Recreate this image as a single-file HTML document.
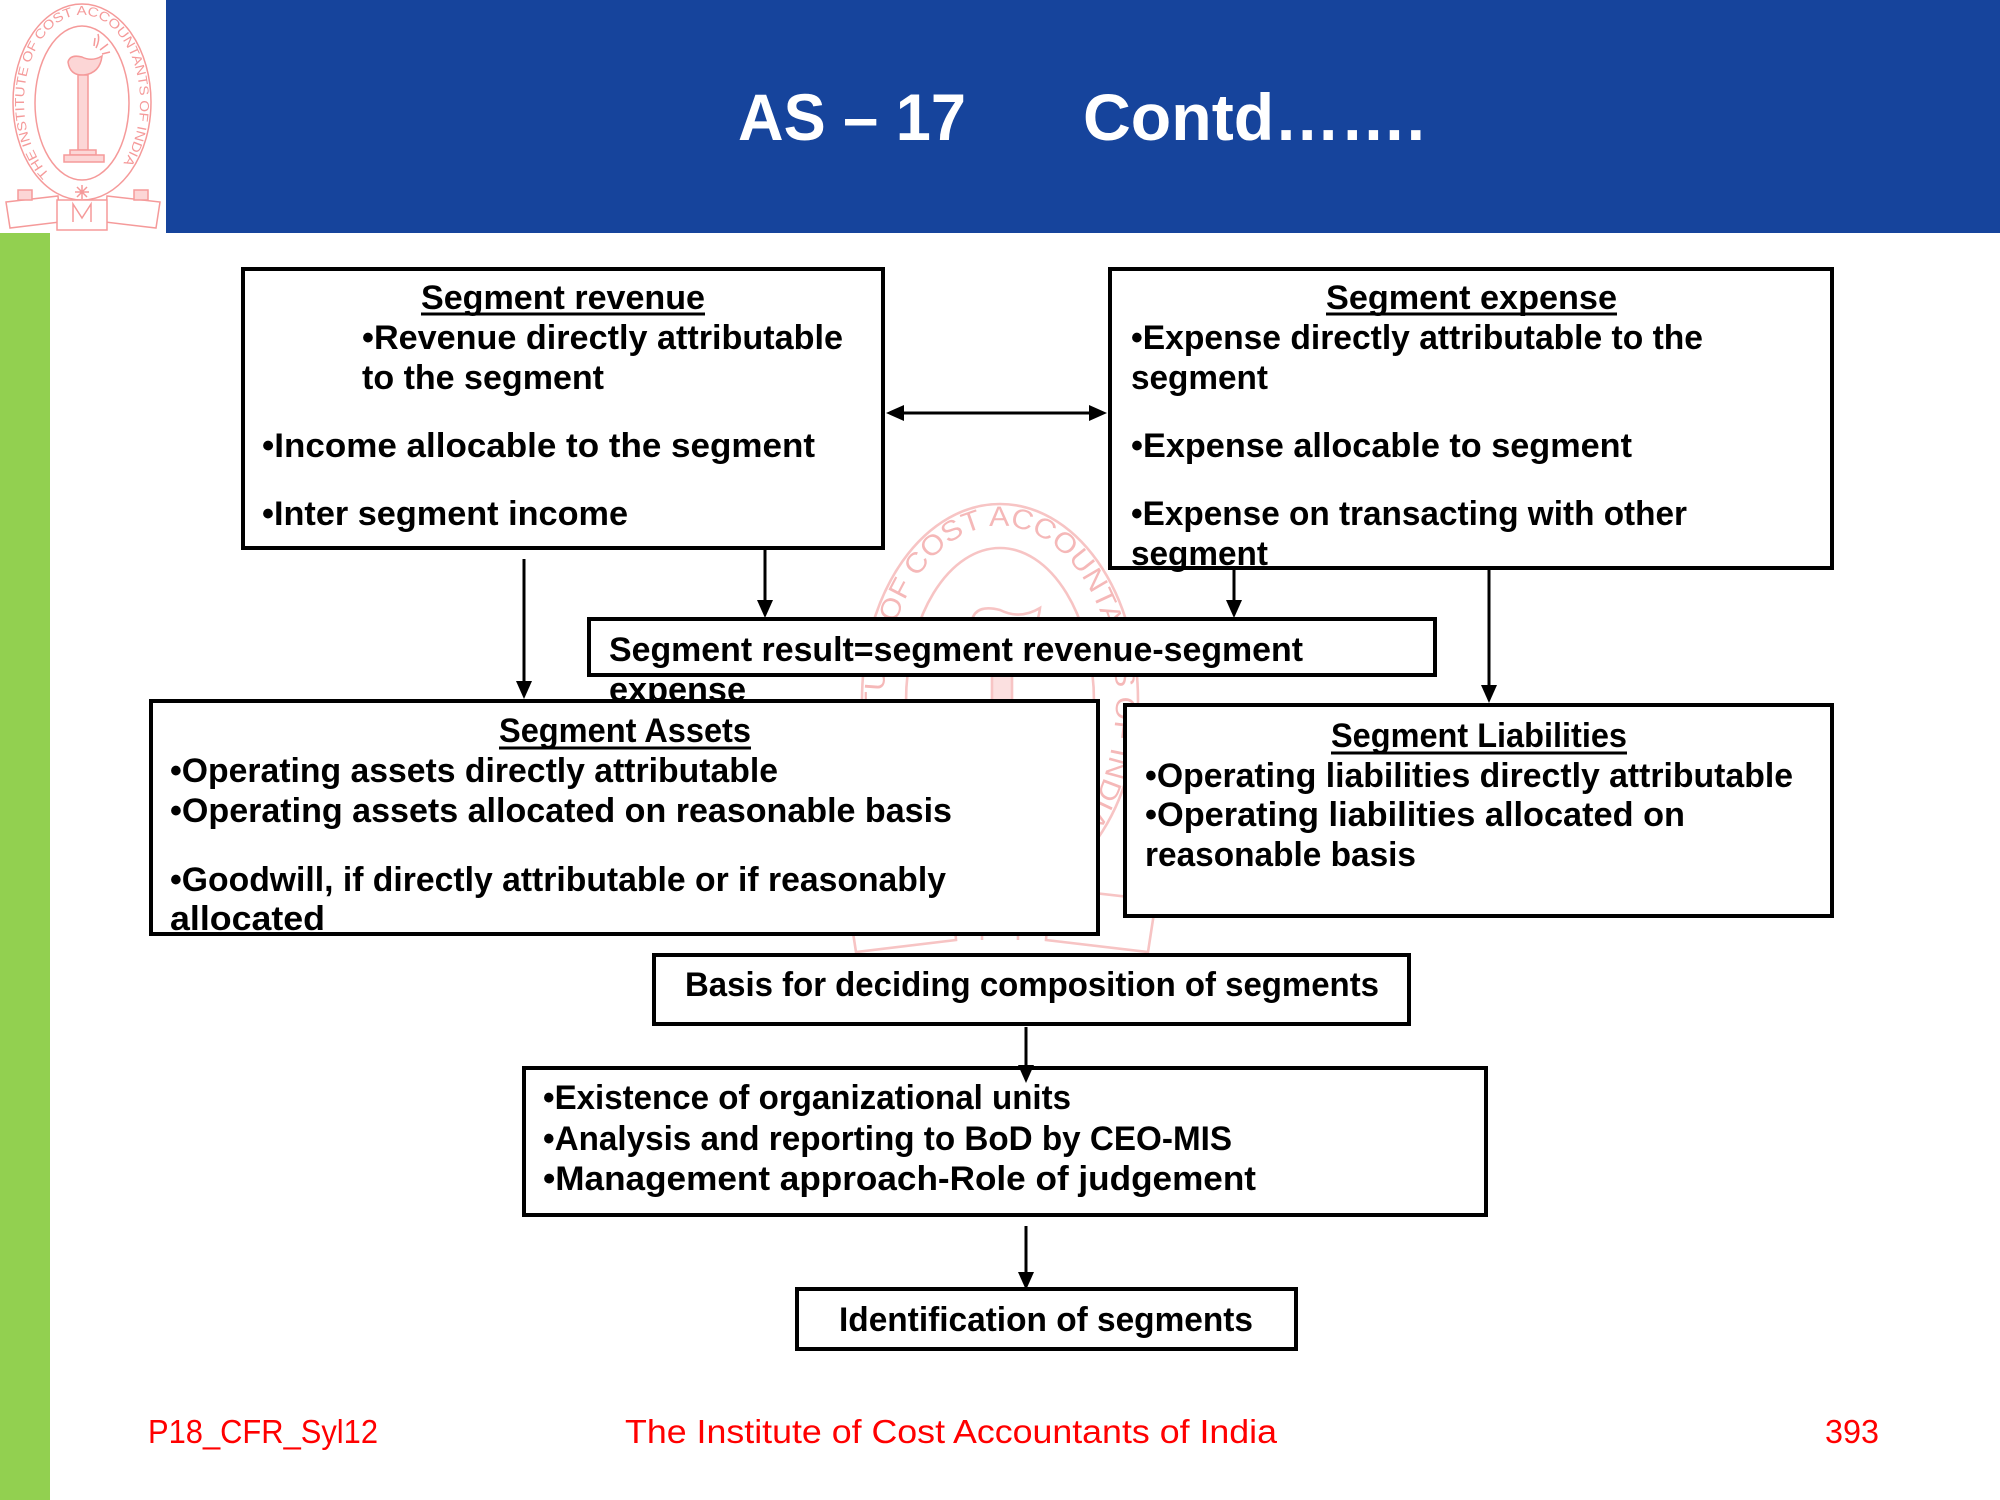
<!DOCTYPE html>
<html>
<head>
<meta charset="utf-8">
<style>
  html, body { margin: 0; padding: 0; background: #ffffff; }
  body { width: 2000px; height: 1500px; overflow: hidden; position: relative; }
  svg { position: absolute; left: 0; top: 0; }
  .t { font-family: "Liberation Sans", "DejaVu Sans", sans-serif; font-weight: bold; font-size: 34px; fill: #000; }
  .f { font-family: "Liberation Sans", "DejaVu Sans", sans-serif; font-size: 33px; fill: #ff0000; }
  .ttl { font-family: "Liberation Sans", "DejaVu Sans", sans-serif; font-weight: bold; font-size: 66px; fill: #ffffff; }
  .lg { font-family: "Liberation Sans", "DejaVu Sans", sans-serif; font-size: 13px; }
  .lg2 { font-family: "Liberation Sans", "DejaVu Sans", sans-serif; font-size: 14px; }
</style>
</head>
<body>
<svg width="2000" height="1500" viewBox="0 0 2000 1500" xmlns="http://www.w3.org/2000/svg">

  <!-- header band -->
  <rect x="166" y="0" width="1834" height="233" fill="#16449C"/>
  <!-- green side bar -->
  <rect x="0" y="233" width="50" height="1267" fill="#92D050"/>

  <!-- header logo -->
  <g stroke="#f59a9a" fill="none" stroke-width="1.5">
    <ellipse cx="82" cy="102" rx="69" ry="98"/>
    <ellipse cx="82" cy="103" rx="47" ry="77"/>
    <path id="lgp1" d="M49.6,174.1 A58,87 0 1,1 111,177.3" stroke="none"/>
    <path d="M68,62 Q70,76 84,75 Q100,73 102,56 Q92,62 82,57 Q70,54 68,62Z" fill="#fcd6d6"/>
    <path d="M96,48 Q100,40 98,34 M100,50 L108,44 M102,54 L110,52 M94,46 L95,38" />
    <rect x="78" y="75" width="10" height="75" fill="#fcd6d6"/>
    <rect x="70" y="150" width="26" height="5" fill="#fcd6d6"/>
    <rect x="64" y="155" width="40" height="7" fill="#fcd6d6"/>
    <path d="M82,185 L82,199 M75,192 L89,192 M77,187 L87,197 M87,187 L77,197"/>
    <path d="M6,202 L58,196 L60,222 L10,228 Z" fill="#fff"/>
    <path d="M107,196 L160,202 L156,228 L105,222 Z" fill="#fff"/>
    <path d="M57,200 L107,200 L107,230 L57,230 Z" fill="#fff"/>
    <path d="M73,222 L73,204 L82,218 L91,204 L91,222"/>
    <rect x="18" y="190" width="14" height="10" fill="#fcd6d6"/>
    <rect x="134" y="190" width="14" height="10" fill="#fcd6d6"/>
  </g>
  <text class="lg" fill="#f59a9a"><textPath href="#lgp1" textLength="372" lengthAdjust="spacingAndGlyphs">THE INSTITUTE OF COST ACCOUNTANTS OF INDIA</textPath></text>

  <!-- title -->
  <text class="ttl" x="738" y="140" textLength="228" lengthAdjust="spacingAndGlyphs">AS – 17</text>
  <text class="ttl" x="1083" y="140" textLength="342" lengthAdjust="spacingAndGlyphs">Contd…….</text>

  <!-- watermark logo (behind boxes) -->
  <g transform="translate(836,496) scale(2)">
    <g stroke="#f7c4c4" fill="none" stroke-width="1.3">
      <ellipse cx="82" cy="102" rx="69" ry="98"/>
      <ellipse cx="82" cy="103" rx="47" ry="77"/>
      <path id="lgp2" d="M49.6,174.1 A58,87 0 1,1 111,177.3" stroke="none"/>
      <path d="M68,62 Q70,76 84,75 Q100,73 102,56 Q92,62 82,57 Q70,54 68,62Z"/>
      <rect x="78" y="75" width="10" height="75" fill="#fbe0e0"/>
      <rect x="70" y="150" width="26" height="5"/>
      <rect x="64" y="155" width="40" height="7"/>
      <path d="M6,202 L58,196 L60,222 L10,228 Z"/>
      <path d="M107,196 L160,202 L156,228 L105,222 Z"/>
      <path d="M73,222 L73,204 L82,218 L91,204 L91,222"/>
    </g>
    <text class="lg2" fill="#f5b8b8"><textPath href="#lgp2" textLength="372" lengthAdjust="spacingAndGlyphs">THE INSTITUTE OF COST ACCOUNTANTS OF INDIA</textPath></text>
  </g>

  <!-- Segment revenue box -->
  <rect x="243" y="269" width="640" height="279" fill="#fff" stroke="#000" stroke-width="4"/>
  <text class="t" x="421" y="309" textLength="284" lengthAdjust="spacingAndGlyphs">Segment revenue</text>
  <line x1="421" y1="314" x2="705" y2="314" stroke="#000" stroke-width="3"/>
  <text class="t" x="362" y="349" textLength="481" lengthAdjust="spacingAndGlyphs">•Revenue directly attributable</text>
  <text class="t" x="362" y="389" textLength="242" lengthAdjust="spacingAndGlyphs">to the segment</text>
  <text class="t" x="262" y="457" textLength="553" lengthAdjust="spacingAndGlyphs">•Income allocable to the segment</text>
  <text class="t" x="262" y="525" textLength="366" lengthAdjust="spacingAndGlyphs">•Inter segment income</text>

  <!-- Segment expense box -->
  <rect x="1110" y="269" width="722" height="299" fill="#fff" stroke="#000" stroke-width="4"/>
  <text class="t" x="1326" y="309" textLength="291" lengthAdjust="spacingAndGlyphs">Segment expense</text>
  <line x1="1326" y1="314" x2="1617" y2="314" stroke="#000" stroke-width="3"/>
  <text class="t" x="1131" y="349" textLength="572" lengthAdjust="spacingAndGlyphs">•Expense directly attributable to the</text>
  <text class="t" x="1131" y="389" textLength="137" lengthAdjust="spacingAndGlyphs">segment</text>
  <text class="t" x="1131" y="457" textLength="501" lengthAdjust="spacingAndGlyphs">•Expense allocable to segment</text>
  <text class="t" x="1131" y="525" textLength="556" lengthAdjust="spacingAndGlyphs">•Expense on transacting with other</text>
  <text class="t" x="1131" y="565" textLength="137" lengthAdjust="spacingAndGlyphs">segment</text>

  <!-- Segment result box -->
  <rect x="589" y="619" width="846" height="56" fill="#fff" stroke="#000" stroke-width="4"/>
  <text class="t" x="609" y="661" textLength="694" lengthAdjust="spacingAndGlyphs">Segment result=segment revenue-segment</text>
  <text class="t" x="609" y="701" textLength="137" lengthAdjust="spacingAndGlyphs">expense</text>

  <!-- Segment assets box (covers overflow text) -->
  <rect x="151" y="701" width="947" height="233" fill="#fff" stroke="#000" stroke-width="4"/>
  <text class="t" x="499" y="742" textLength="252" lengthAdjust="spacingAndGlyphs">Segment Assets</text>
  <line x1="499" y1="748" x2="751" y2="748" stroke="#000" stroke-width="3"/>
  <text class="t" x="170" y="782" textLength="608" lengthAdjust="spacingAndGlyphs">•Operating assets directly attributable</text>
  <text class="t" x="170" y="822" textLength="782" lengthAdjust="spacingAndGlyphs">•Operating assets allocated on reasonable basis</text>
  <text class="t" x="170" y="891" textLength="776" lengthAdjust="spacingAndGlyphs">•Goodwill, if directly attributable or if reasonably</text>
  <text class="t" x="170" y="930" textLength="155" lengthAdjust="spacingAndGlyphs">allocated</text>

  <!-- Segment liabilities box -->
  <rect x="1125" y="705" width="707" height="211" fill="#fff" stroke="#000" stroke-width="4"/>
  <text class="t" x="1331" y="747" textLength="296" lengthAdjust="spacingAndGlyphs">Segment Liabilities</text>
  <line x1="1331" y1="753" x2="1627" y2="753" stroke="#000" stroke-width="3"/>
  <text class="t" x="1145" y="787" textLength="648" lengthAdjust="spacingAndGlyphs">•Operating liabilities directly attributable</text>
  <text class="t" x="1145" y="826" textLength="540" lengthAdjust="spacingAndGlyphs">•Operating liabilities allocated on</text>
  <text class="t" x="1145" y="866" textLength="271" lengthAdjust="spacingAndGlyphs">reasonable basis</text>

  <!-- Basis box -->
  <rect x="654" y="955" width="755" height="69" fill="#fff" stroke="#000" stroke-width="4"/>
  <text class="t" x="685" y="996" textLength="694" lengthAdjust="spacingAndGlyphs">Basis for deciding composition of segments</text>

  <!-- List box -->
  <rect x="524" y="1068" width="962" height="147" fill="#fff" stroke="#000" stroke-width="4"/>
  <text class="t" x="543" y="1109" textLength="528" lengthAdjust="spacingAndGlyphs">•Existence of organizational units</text>
  <text class="t" x="543" y="1150" textLength="689" lengthAdjust="spacingAndGlyphs">•Analysis and reporting to BoD by CEO-MIS</text>
  <text class="t" x="543" y="1190" textLength="713" lengthAdjust="spacingAndGlyphs">•Management approach-Role of judgement</text>

  <!-- Identification box -->
  <rect x="797" y="1289" width="499" height="60" fill="#fff" stroke="#000" stroke-width="4"/>
  <text class="t" x="839" y="1331" textLength="414" lengthAdjust="spacingAndGlyphs">Identification of segments</text>

  <!-- connectors -->
  <g stroke="#000" stroke-width="3" fill="none">
    <line x1="900" y1="413" x2="1093" y2="413"/>
    <line x1="765" y1="550" x2="765" y2="605"/>
    <line x1="1234" y1="570" x2="1234" y2="605"/>
    <line x1="524" y1="559" x2="524" y2="686"/>
    <line x1="1489" y1="570" x2="1489" y2="690"/>
    <line x1="1026" y1="1027" x2="1026" y2="1070"/>
    <line x1="1026" y1="1226" x2="1026" y2="1277"/>
  </g>
  <g fill="#000">
    <path d="M886,413 L904,405 L904,421 Z"/>
    <path d="M1107,413 L1089,405 L1089,421 Z"/>
    <path d="M765,618 L757,600 L773,600 Z"/>
    <path d="M1234,618 L1226,600 L1242,600 Z"/>
    <path d="M524,699 L516,681 L532,681 Z"/>
    <path d="M1489,703 L1481,685 L1497,685 Z"/>
    <path d="M1026,1083 L1018,1065 L1034,1065 Z"/>
    <path d="M1026,1290 L1018,1272 L1034,1272 Z"/>
  </g>

  <!-- footer -->
  <text class="f" x="148" y="1443" textLength="230" lengthAdjust="spacingAndGlyphs">P18_CFR_Syl12</text>
  <text class="f" x="625" y="1443" textLength="652" lengthAdjust="spacingAndGlyphs">The Institute of Cost Accountants of India</text>
  <text class="f" x="1825" y="1443" textLength="54" lengthAdjust="spacingAndGlyphs">393</text>
</svg>
</body>
</html>
